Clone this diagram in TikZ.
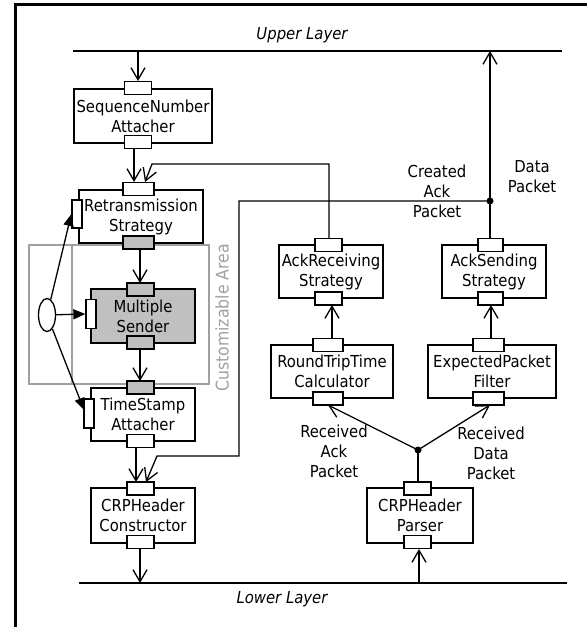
\documentclass[tikz,border=0pt]{standalone}
\usepackage{fontspec}
\setmainfont{DejaVu Sans Condensed}
\usetikzlibrary{arrows.meta,shapes.geometric}
\definecolor{boxgray}{RGB}{192,192,192}
\definecolor{areagray}{RGB}{160,160,160}
\begin{document}
\begin{tikzpicture}[x=1pt,y=-1pt, line width=1.3pt,
  every node/.style={font=\fontsize{16.5}{20}\selectfont},
  comp/.style={draw, rectangle, inner sep=0pt, align=center, fill=white},
  port/.style={draw, fill=white, rectangle, inner sep=0pt, minimum width=27pt, minimum height=13pt},
  gport/.style={port, fill=boxgray},
  vport/.style={draw, fill=white, rectangle, inner sep=0pt, minimum width=10pt, minimum height=28pt},
  arr/.style={-{Straight Barb[length=12pt,width=14pt]}},
  farr/.style={-{Triangle[length=12pt,width=10pt]}},
  dotnode/.style={circle, fill=black, inner sep=0pt, minimum size=7pt},
  lbl/.style={align=center, inner sep=0pt}]
\useasboundingbox (0,0) rectangle (587,627);
% frame
\draw[line width=3pt] (15.3,627) -- (15.3,4.7) -- (587,4.7);
% layers
\draw (73,51) -- (562,51);
\draw (79,583) -- (567,583);
\node[font=\fontsize{16.5}{20}\selectfont\itshape] (ultext) at (302,35) {Upper Layer};
\node[font=\fontsize{16.5}{20}\selectfont\itshape] (lltext) at (282,599) {Lower Layer};
\coordinate (ul1) at (138,51);
\coordinate (ul2) at (490,51);
\coordinate (ll1) at (140,583);
\coordinate (ll2) at (419,583);
% customizable area
\draw[areagray] (29,245) rectangle (209,384);
\draw[areagray] (72,245) -- (72,384);
\node[rotate=90, text=areagray, font=\fontsize{17.5}{20}\selectfont] (catext) at (222,318) {Customizable Area};
% dots
\node[dotnode] (cad) at (490,201) {};
\node[dotnode] (rd) at (418,450) {};
% connectors
\draw[arr] (ul1) -- (138,81);
\draw[arr] (134,149) -- (134,182);
\draw[arr] (329,238) -- (329,164) -- (152,164) -- (145,182);
\draw[arr] (140,249) -- (140,283);
\draw[arr] (140,349) -- (140,381);
\draw[arr] (136,448) -- (136,482);
\draw[arr] (cad.center) -- (239,201) -- (239,456) -- (157,456) -- (146,482);
\draw[arr] (140,549) -- (ll1);
\draw[arr] (ll2) -- (419,549);
\draw (418,482) -- (rd.center);
\draw[arr] (rd.center) -- (328,405);
\draw[arr] (rd.center) -- (490,405);
\draw[arr] (332,338) -- (332,305);
\draw[arr] (491,338) -- (491,305);
\draw[arr] (490,238) -- (ul2);
% boxes
\node[comp, minimum width=138pt, minimum height=54pt] (seq) at (143,116) {SequenceNumber\\Attacher};
\node[comp, minimum width=124pt, minimum height=53pt] (retr) at (141,216.5) {Retransmission\\Strategy};
\node[comp, fill=boxgray, minimum width=104pt, minimum height=54pt] (mult) at (143,316) {Multiple\\Sender};
\node[comp, minimum width=104pt, minimum height=53pt] (ts) at (143,414.5) {TimeStamp\\Attacher};
\node[comp, minimum width=104pt, minimum height=55pt] (crpc) at (143,515.5) {CRPHeader\\Constructor};
\node[comp, minimum width=104pt, minimum height=53pt] (ackr) at (331,271.5) {AckReceiving\\Strategy};
\node[comp, minimum width=122pt, minimum height=53pt] (rtt) at (332,371.5) {RoundTripTime\\Calculator};
\node[comp, minimum width=104pt, minimum height=53pt] (acks) at (494,271.5) {AckSending\\Strategy};
\node[comp, minimum width=128pt, minimum height=53pt] (epf) at (492,371.5) {ExpectedPacket\\Filter};
\node[comp, minimum width=106pt, minimum height=55pt] (crpp) at (420,515.5) {CRPHeader\\Parser};
% ports
\node[port] (seqT) at (138,88) {};
\node[port] (seqB) at (138,142) {};
\node[port, minimum width=31pt] (retrT) at (138.5,189) {};
\node[gport, minimum width=31pt] (retrB) at (138.5,242.5) {};
\node[vport] (retrL) at (77,214) {};
\node[gport] (multT) at (140.5,289.5) {};
\node[gport] (multB) at (140.5,342.5) {};
\node[vport, minimum height=29pt] (multL) at (91,314) {};
\node[gport] (tsT) at (140.5,387.5) {};
\node[port] (tsB) at (140.5,441) {};
\node[vport, minimum height=29pt] (tsL) at (89,413.5) {};
\node[port] (crpcT) at (140.5,488.5) {};
\node[port] (crpcB) at (140.5,542) {};
\node[port] (ackrT) at (328.5,245) {};
\node[port] (ackrB) at (328.5,298.5) {};
\node[port, minimum width=30pt] (rttT) at (328,345) {};
\node[port, minimum width=30pt] (rttB) at (328,398.5) {};
\node[port, minimum width=25pt] (acksT) at (490.5,245) {};
\node[port, minimum width=25pt] (acksB) at (490.5,298.5) {};
\node[port, minimum width=31pt] (epfT) at (488.5,345) {};
\node[port, minimum width=31pt] (epfB) at (488.5,398.5) {};
\node[port] (crppT) at (417.5,488.5) {};
\node[port] (crppB) at (417.5,542) {};
% ellipse
\node[draw, fill=white, ellipse, inner sep=0pt, minimum width=17pt, minimum height=33pt] (ell) at (47,315) {};
\draw[farr] (ell) -- (retrL.west);
\draw[farr] (ell) -- (multL.west);
\draw[farr] (ell) -- (84,410);
% labels
\node[lbl] (calbl) at (437,191) {Created\\Ack\\Packet};
\node[lbl] (dplbl) at (532,177) {Data\\Packet};
\node[lbl] (ralbl) at (334,451) {Received\\Ack\\Packet};
\node[lbl] (rdlbl) at (491,453) {Received\\Data\\Packet};
\end{tikzpicture}
\end{document}
